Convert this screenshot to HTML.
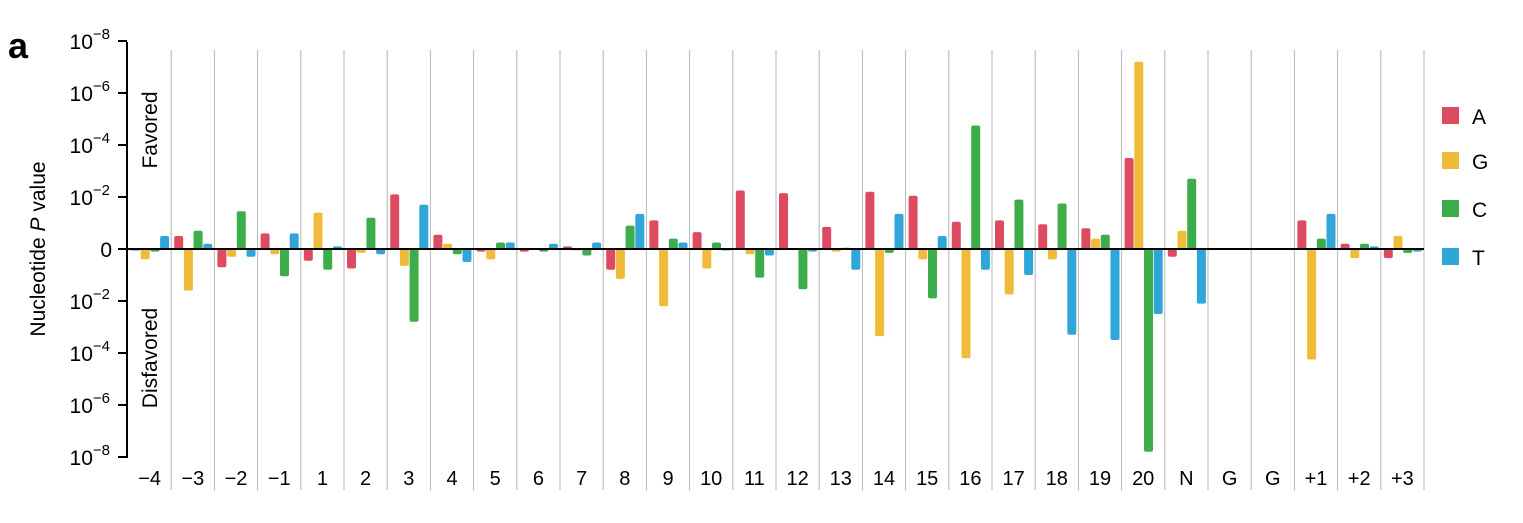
<!DOCTYPE html>
<html><head><meta charset="utf-8"><style>
body{margin:0;background:#fff;width:1523px;height:518px;overflow:hidden;font-family:"Liberation Sans",sans-serif}
</style></head><body>
<svg id="chart" width="1523" height="518" xmlns="http://www.w3.org/2000/svg" font-family="Liberation Sans, sans-serif">
<text x="8" y="58" font-size="36" font-weight="bold">a</text>
<text transform="translate(45,249) rotate(-90)" text-anchor="middle" font-size="21">Nucleotide <tspan font-style="italic">P</tspan> value</text>
<text transform="translate(157,130) rotate(-90)" text-anchor="middle" font-size="21">Favored</text>
<text transform="translate(157,358) rotate(-90)" text-anchor="middle" font-size="21">Disfavored</text>
<g id="grid"></g><g id="bars"></g><g id="axis"></g><g id="legend"></g>
</svg>
<script>
const categories=["−4","−3","−2","−1","1","2","3","4","5","6","7","8","9","10","11","12","13","14","15","16","17","18","19","20","N","G","G","+1","+2","+3"];
const seriesNames=["A","G","C","T"];
const colors=["#de4b61","#f0bb3a","#3cad4a","#30a5d8"];
const valA=[-0.05,0.5,-0.7,0.6,-0.45,-0.75,2.1,0.55,-0.1,-0.1,0.1,-0.8,1.1,0.65,2.25,2.15,0.85,2.2,2.05,1.05,1.1,0.95,0.8,3.5,-0.3,0,0,1.1,0.2,-0.35];
const valG=[-0.4,-1.6,-0.3,-0.2,1.4,-0.15,-0.65,0.2,-0.4,0,-0.05,-1.15,-2.2,-0.75,-0.2,0.03,-0.1,-3.35,-0.4,-4.2,-1.75,-0.4,0.4,7.2,0.7,0,0,-4.25,-0.35,0.5];
const valC=[-0.1,0.7,1.45,-1.05,-0.8,1.2,-2.8,-0.2,0.25,-0.1,-0.25,0.9,0.4,0.25,-1.1,-1.55,0.05,-0.15,-1.9,4.75,1.9,1.75,0.55,-7.8,2.7,0,0,0.4,0.2,-0.15];
const valT=[0.5,0.2,-0.3,0.6,0.1,-0.2,1.7,-0.5,0.25,0.2,0.25,1.35,0.25,-0.05,-0.25,-0.1,-0.8,1.35,0.5,-0.8,-1.0,-3.3,-3.5,-2.5,-2.1,0,0,1.35,0.1,-0.1];
const tickVals=[8,6,4,2,0,-2,-4,-6,-8];
const tickExp=["−8","−6","−4","−2","","−2","−4","−6","−8"];
const NS="http://www.w3.org/2000/svg";
const x0=128,gw=43.2,zeroY=249,dy=26;
const xS=i=>x0+i*gw, yS=v=>zeroY-v*dy;
function mk(t,a,p){const e=document.createElementNS(NS,t);for(const k in a)e.setAttribute(k,a[k]);p.appendChild(e);return e;}
const grid=document.getElementById('grid'),bars=document.getElementById('bars'),axis=document.getElementById('axis'),legend=document.getElementById('legend');
for(let i=1;i<=categories.length;i++){const l=mk('line',{x1:xS(i),x2:xS(i),y1:50,y2:490,stroke:'#b4b4b4','stroke-width':1},grid);

}
const all=[valA,valG,valC,valT];
categories.forEach((c,i)=>{
 all.forEach((arr,s)=>{const v=arr[i];if(v===0)return;
  const y1=yS(Math.max(v,0)),y2=yS(Math.min(v,0));
  const r=mk('rect',{x:xS(i)+3+s*9.7,y:y1,width:9,height:Math.max(y2-y1,1.5),rx:2,fill:colors[s]},bars);
  
  });
 const t=mk('text',{x:xS(i)+gw/2,y:485,'text-anchor':'middle','font-size':20},axis);t.textContent=c;
 
 
});
const ax=mk('line',{x1:127,x2:127,y1:42,y2:458,stroke:'#000','stroke-width':2},axis);


const zl=mk('line',{x1:118,x2:1424,y1:zeroY,y2:zeroY,stroke:'#000','stroke-width':2},axis);


tickVals.forEach((v,k)=>{const y=yS(v);
 const tl=mk('line',{x1:118,x2:127,y1:y,y2:y,stroke:'#000','stroke-width':2},axis);
 
 
 const t=mk('text',{x:tickExp[k]?106:112,y:y+8,'text-anchor':'end','font-size':21},axis);
 
 
 if(tickExp[k]){t.textContent='10';const s=mk('tspan',{dy:-10,'font-size':15},t);s.textContent=tickExp[k];t.setAttribute('x',110);}
 else t.textContent='0';
});
const ly=[116,161,209,257];
seriesNames.forEach((n,s)=>{
 const r=mk('rect',{x:1442,y:ly[s]-9,width:17,height:17,fill:colors[s]},legend);
 
 
 const t=mk('text',{x:1472,y:ly[s]+8,'font-size':21},legend);t.textContent=n;
 
 
});
</script>
</body></html>
